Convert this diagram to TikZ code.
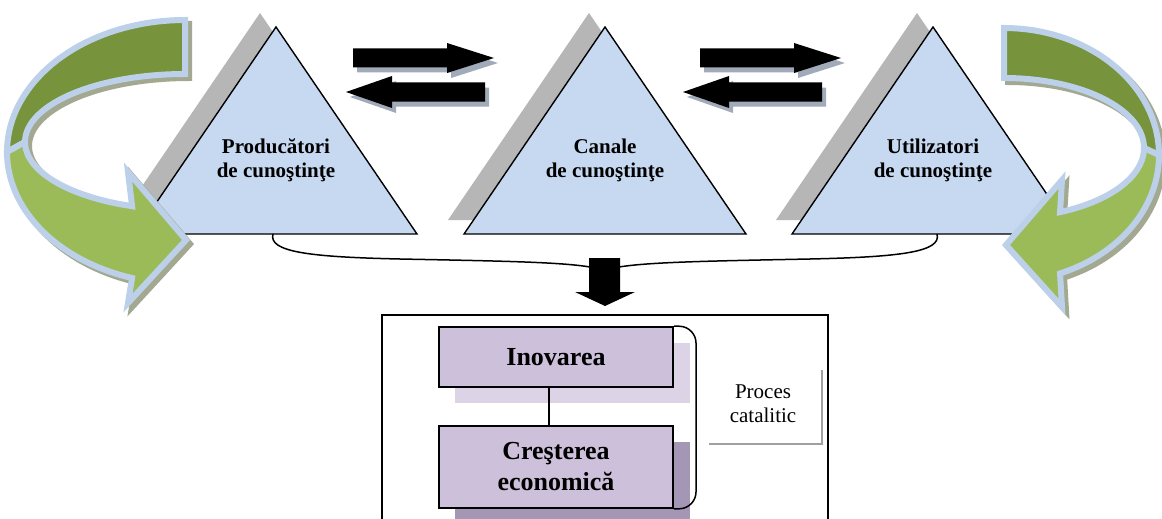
\documentclass[tikz,border=0pt]{standalone}
\usepackage{fontspec}
\setmainfont{Liberation Serif}
\definecolor{triblue}{HTML}{C6D9F1}
\definecolor{trishadow}{HTML}{B6B6B6}
\definecolor{darkgreen}{HTML}{77933C}
\definecolor{lightgreen}{HTML}{9BBB59}
\definecolor{arrowborder}{HTML}{BCD0EA}
\definecolor{greenshadow}{HTML}{A3A890}
\definecolor{blkshadow}{HTML}{A0AAB8}
\definecolor{boxpurple}{HTML}{CCC0DA}
\definecolor{boxshadowA}{HTML}{DCD4E6}
\definecolor{boxshadowB}{HTML}{A497B6}
\definecolor{procgray}{HTML}{A0A0A0}
\begin{document}
\begin{tikzpicture}[x=1pt,y=-1pt,
  tri/.style={fill=triblue,draw=black,line width=1.4pt,line join=miter},
  trish/.style={fill=trishadow},
  tlabel/.style={font=\bfseries\fontsize{21}{24}\selectfont,align=center,inner sep=0pt},
  gback/.style={fill=darkgreen,draw=arrowborder,line width=6pt,line join=miter},
  gfront/.style={fill=lightgreen,draw=arrowborder,line width=6pt,line join=miter},
  gshadow/.style={fill=greenshadow,draw=greenshadow,line width=6pt,line join=miter},
  blk/.style={fill=black},
  blksh/.style={fill=blkshadow},
  pbox/.style={draw=black,line width=2pt,fill=boxpurple,minimum width=234pt,
     font=\bfseries\fontsize{26}{31}\selectfont,align=center,inner sep=0pt},
  plain/.style={line width=1.5pt}
]
\clip (0,0) rectangle (1162,519);
\fill[white] (0,0) rectangle (1162,519);

% triangles
\foreach \cx/\nm in {276/a,605/b,933/c}{
  \fill[trish] (\cx-16,13) -- (\cx+125,220) -- (\cx-157,220) -- cycle;
  \draw[tri] (\cx,27) -- (\cx+141,234) -- (\cx-141,234) -- cycle;
}
\node[tlabel] (prod) at (276,160) {Producători\\de cunoştinţe};
\node[tlabel] (can) at (605,160) {Canale\\de cunoştinţe};
\node[tlabel] (util) at (933,160) {Utilizatori\\de cunoştinţe};

% horizontal block arrows
\foreach \dx/\dl in {0/0,347/337}{
  \begin{scope}[xshift=\dx pt]
    \fill[blksh,shift={(4,5)}] (353,48.5) -- (447,48.5) -- (447,43) -- (494,58) -- (447,73) -- (447,67.5) -- (353,67.5) -- cycle;
    \fill[blk] (353,48.5) -- (447,48.5) -- (447,43) -- (494,58) -- (447,73) -- (447,67.5) -- (353,67.5) -- cycle;
  \end{scope}
  \begin{scope}[xshift=\dl pt]
    \fill[blksh,shift={(4,5)}] (346,92) -- (392,76) -- (392,82.5) -- (485,82.5) -- (485,101.5) -- (392,101.5) -- (392,108) -- cycle;
    \fill[blk] (346,92) -- (392,76) -- (392,82.5) -- (485,82.5) -- (485,101.5) -- (392,101.5) -- (392,108) -- cycle;
  \end{scope}
}

% left green curved arrow
\begin{scope}[shift={(4,4)}]
  \path[gshadow] plot[domain=-90:-180,samples=40] ({185+178*cos(\x)},{152+132*sin(\x)})
     -- plot[domain=180:270,samples=40] ({185+160*cos(\x)},{142+68*sin(\x)}) -- cycle;
  \path[gshadow] plot[domain=180:107.3,samples=40] ({185+178*cos(\x)},{152+132*sin(\x)})
     -- (128,303) -- (186,240) -- (128,172)
     -- plot[domain=109.3:180,samples=40] ({185+160*cos(\x)},{142+68*sin(\x)}) -- cycle;
\end{scope}
\path[gback] plot[domain=-90:-180,samples=40] ({185+178*cos(\x)},{152+132*sin(\x)})
   -- plot[domain=180:270,samples=40] ({185+160*cos(\x)},{142+68*sin(\x)}) -- cycle;
\path[gfront] plot[domain=180:107.3,samples=40] ({185+178*cos(\x)},{152+132*sin(\x)})
   -- (128,303) -- (186,240) -- (128,172)
   -- plot[domain=109.3:180,samples=40] ({185+160*cos(\x)},{142+68*sin(\x)}) -- cycle;

% right green curved arrow
\begin{scope}[shift={(4,4)}]
  \path[gshadow] plot[domain=-90:0,samples=40] ({1004+155*cos(\x)},{155+127*sin(\x)})
     -- plot[domain=0:-90,samples=40] ({1004+140*cos(\x)},{148+70*sin(\x)}) -- cycle;
  \path[gshadow] plot[domain=0:68.8,samples=40] ({1004+155*cos(\x)},{155+127*sin(\x)})
     -- (1062,307) -- (1006,245) -- (1062,180)
     -- plot[domain=66.4:0,samples=40] ({1004+140*cos(\x)},{148+70*sin(\x)}) -- cycle;
\end{scope}
\path[gback] plot[domain=-90:0,samples=40] ({1004+155*cos(\x)},{155+127*sin(\x)})
   -- plot[domain=0:-90,samples=40] ({1004+140*cos(\x)},{148+70*sin(\x)}) -- cycle;
\path[gfront] plot[domain=0:68.8,samples=40] ({1004+155*cos(\x)},{155+127*sin(\x)})
   -- (1062,307) -- (1006,245) -- (1062,180)
   -- plot[domain=66.4:0,samples=40] ({1004+140*cos(\x)},{148+70*sin(\x)}) -- cycle;

% brace and down arrow
\coordinate (t1b) at (273,234);
\coordinate (t3b) at (937,234);
\coordinate (stemL) at (590,267);
\coordinate (stemR) at (619,267);
\draw[plain] (t1b) .. controls (268,252) and (310,257) .. (400,259) .. controls (500,261) and (560,262) .. (stemL);
\draw[plain] (t3b) .. controls (942,252) and (900,257) .. (810,259) .. controls (710,261) and (650,262) .. (stemR);
\fill[blk] (589,258) -- (620,258) -- (620,292) -- (635,292) -- (605,306) -- (575,292) -- (589,292) -- cycle;

% bottom box
\draw[plain] (382,315) rectangle (828,540);
\fill[boxshadowA] (455,343) rectangle (690,403);
\fill[boxshadowB] (455,442) rectangle (690,540);
\node[pbox,minimum height=60pt] (inov) at (556,357) {Inovarea};
\node[pbox,minimum height=82pt] (cres) at (556,467) {Creşterea\\economică};
\draw[line width=1.2pt] ([xshift=-7pt]inov.south) -- ([xshift=-7pt]cres.north);
\draw[plain,rounded corners=16pt] (inov.north east) -- (696,327) -- (696,508) -- (cres.south east);
\node[font=\fontsize{21}{24}\selectfont,align=center,inner sep=0pt] (proc) at (763,404) {Proces\\catalitic};
\draw[procgray,line width=2pt] (709,444) -- (822,444) -- (822,370);
\end{tikzpicture}
\end{document}
